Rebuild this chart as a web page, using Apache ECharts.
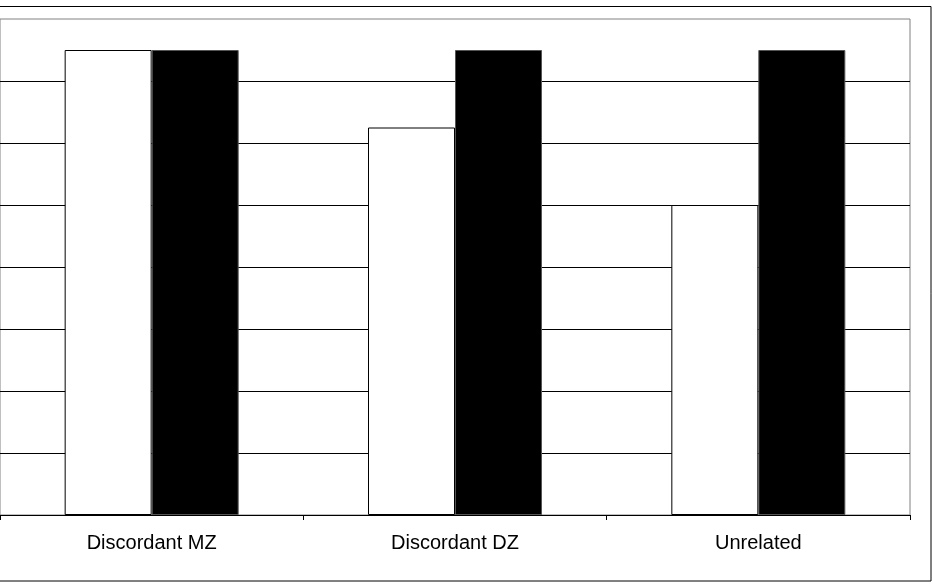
<!DOCTYPE html>
<html>
<head>
<meta charset="utf-8">
<script src="https://cdn.jsdelivr.net/npm/echarts@6/dist/echarts.min.js"></script>
<style>html,body{margin:0;padding:0;background:#fff;}#c{width:933px;height:585px;}</style>
</head>
<body>
<div id="c"></div>
<script>
var categories = ['Discordant MZ', 'Discordant DZ', 'Unrelated'];
var whiteValues = [7.5, 6.25, 5.0];
var blackValues = [7.5, 7.5, 7.5];
var yMin = 0, yMax = 8, yInterval = 1;

var chart = echarts.init(document.getElementById('c'), null, {renderer: 'canvas'});
chart.setOption({
  backgroundColor: '#fff',
  animation: false,
  graphic: [{
    type: 'rect', silent: true, z: 100,
    shape: {x: -5, y: 6.5, width: 936, height: 574.5},
    style: {fill: 'none', stroke: '#000', lineWidth: 1}
  }],
  grid: {left: -3, right: 23, top: 19, bottom: 70, show: true, borderColor: '#808080', borderWidth: 1, backgroundColor: 'transparent'},
  xAxis: {
    type: 'category', data: categories,
    axisLine: {show: true, lineStyle: {color: '#000', width: 1}},
    axisTick: {show: true, length: 5, inside: false, lineStyle: {color: '#000'}},
    axisLabel: {color: '#000', fontFamily: 'Liberation Sans, Arial, sans-serif', fontSize: 20, margin: 18},
    splitLine: {show: false}
  },
  yAxis: {
    type: 'value', min: yMin, max: yMax, interval: yInterval,
    axisLine: {show: false}, axisTick: {show: false}, axisLabel: {show: false},
    splitLine: {show: true, showMaxLine: false, showMinLine: false, lineStyle: {color: '#000', width: 1}}
  },
  series: [
    {type: 'bar', data: whiteValues, barWidth: 87, barGap: '0%',
     itemStyle: {color: '#fff', borderColor: '#000', borderWidth: 1}},
    {type: 'bar', data: blackValues, barWidth: 87, barGap: '0%',
     itemStyle: {color: '#000', borderColor: '#555', borderWidth: 1}}
  ]
});
</script>
</body>
</html>
